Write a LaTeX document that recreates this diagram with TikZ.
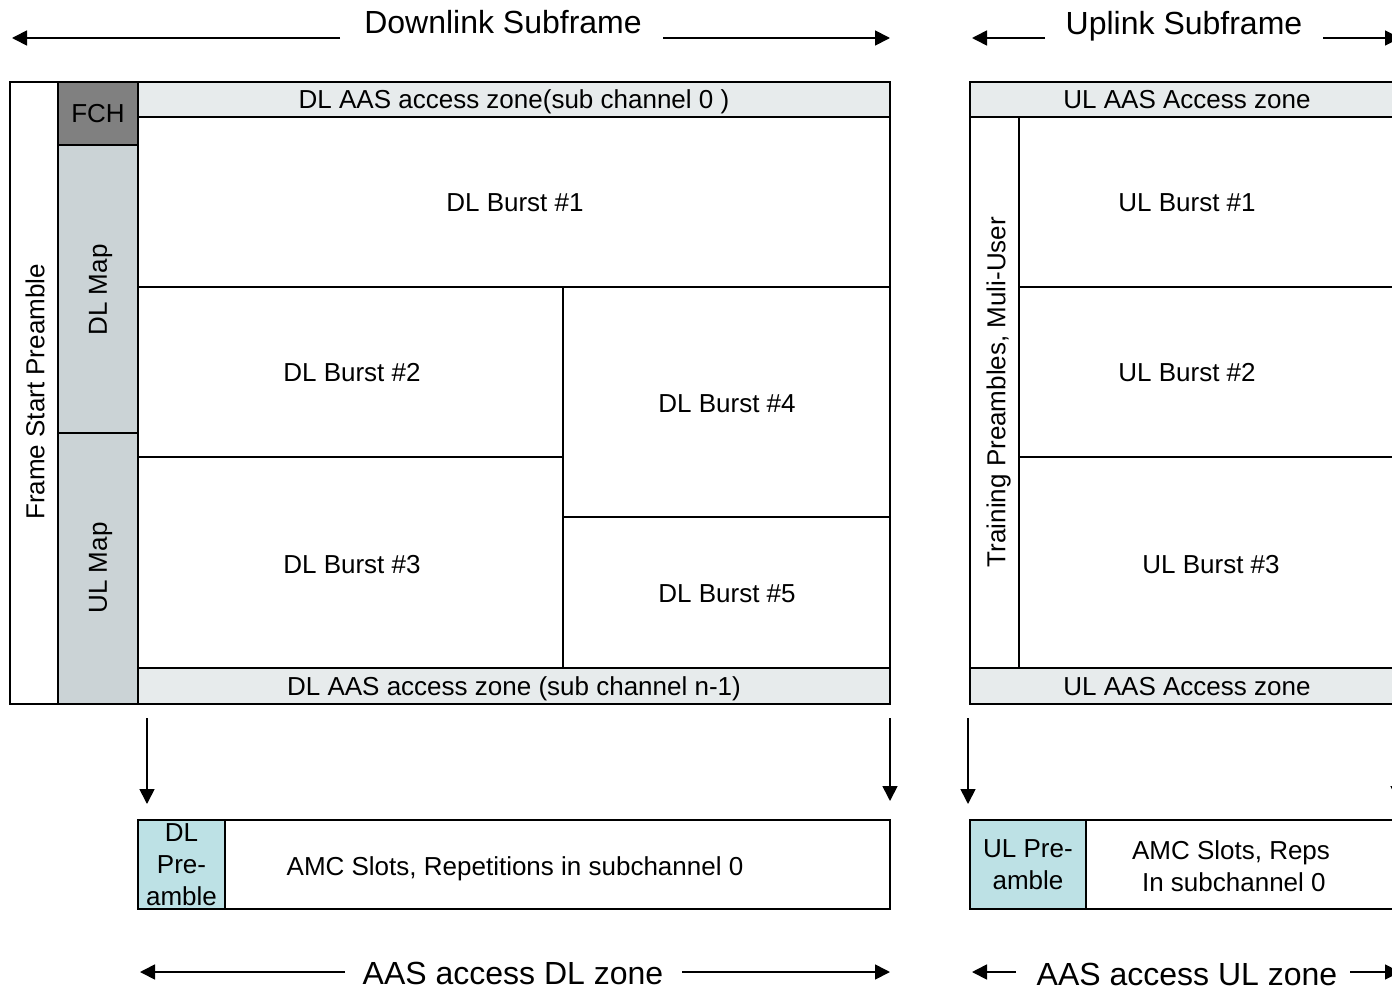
\documentclass[tikz,border=0pt]{standalone}
\usepackage{fontspec}
\setmainfont{Liberation Sans}
\usetikzlibrary{arrows.meta}
\definecolor{fchgray}{HTML}{808080}
\definecolor{mapgray}{HTML}{CBD3D6}
\definecolor{zonegray}{HTML}{E7EBEC}
\definecolor{pretealc}{HTML}{BDE1E5}
\newcommand\cellnode[7]{%
  \node[cellbox,#6,minimum width={(#4)-(#2)},minimum height={(#5)-(#3)}] (#1) at ({((#2)+(#4))/2},{((#3)+(#5))/2}) {#7};}
\tikzset{
  cellbox/.style={draw=black,line width=1.6pt,rectangle,inner sep=0pt,outer sep=0pt,
    font=\fontsize{26}{32}\selectfont,align=center,text depth=0pt},
  zonebox/.style={fill=zonegray},
  mapbox/.style={fill=mapgray},
  fchbox/.style={fill=fchgray},
  prebox/.style={fill=pretealc},
  plainbox/.style={fill=white},
  lbl/.style={font=\fontsize{26}{32}\selectfont,inner sep=0pt,align=center,text depth=0pt},
  title/.style={font=\fontsize{32}{36}\selectfont,inner sep=0pt},
  arr/.style={line width=1.7pt,-{Triangle[length=15pt,width=15pt]}},
}
\begin{document}
\begin{tikzpicture}[x=1pt,y=-1pt]
\useasboundingbox (0,0) rectangle (1392,990);
\clip (0,0) rectangle (1392,990);
\fill[white] (0,0) rectangle (1392,990);
% ---------------- Downlink subframe ----------------
\cellnode{fsp}{10}{82}{58}{704}{plainbox}{}
\cellnode{fch}{58}{82}{138}{145}{fchbox}{FCH}
\cellnode{dlmap}{58}{145}{138}{433}{mapbox}{}
\cellnode{ulmap}{58}{433}{138}{704}{mapbox}{}
\cellnode{dlztop}{138}{82}{890}{117}{zonebox}{DL AAS access zone(sub channel 0 )}
\cellnode{dlb1}{138}{117}{890}{287}{plainbox}{}
\cellnode{dlb2}{138}{287}{563}{457}{plainbox}{}
\cellnode{dlb3}{138}{457}{563}{668}{plainbox}{}
\cellnode{dlb4}{563}{287}{890}{517}{plainbox}{}
\cellnode{dlb5}{563}{517}{890}{668}{plainbox}{}
\cellnode{dlzbot}{138}{668}{890}{704}{zonebox}{DL AAS access zone (sub channel n-1)}
\draw[line width=1.6pt] (10,82) rectangle (890,704);
\node[lbl,rotate=90] (fsptxt) at (35,392) {Frame Start Preamble};
\node[lbl,rotate=90] (dlmaptxt) at (98,290) {DL Map};
\node[lbl,rotate=90] (ulmaptxt) at (98,568) {UL Map};
\node[lbl] (dlb1txt) at (515,203) {DL Burst \#1};
\node[lbl] (dlb2txt) at (352,372) {DL Burst \#2};
\node[lbl] (dlb3txt) at (352,564) {DL Burst \#3};
\node[lbl] (dlb4txt) at (727,404) {DL Burst \#4};
\node[lbl] (dlb5txt) at (727,594) {DL Burst \#5};
% ---------------- Uplink subframe ----------------
\cellnode{ulztop}{970}{82}{1404}{117}{zonebox}{UL AAS Access zone}
\cellnode{trn}{970}{117}{1019}{668}{plainbox}{}
\cellnode{ulb1}{1019}{117}{1404}{287}{plainbox}{}
\cellnode{ulb2}{1019}{287}{1404}{457}{plainbox}{}
\cellnode{ulb3}{1019}{457}{1404}{668}{plainbox}{}
\cellnode{ulzbot}{970}{668}{1404}{704}{zonebox}{UL AAS Access zone}
\node[lbl,rotate=90] (trntxt) at (996,392) {Training Preambles, Muli-User};
\node[lbl] (ulb1txt) at (1187,203) {UL Burst \#1};
\node[lbl] (ulb2txt) at (1187,372) {UL Burst \#2};
\node[lbl] (ulb3txt) at (1211,564) {UL Burst \#3};
% ---------------- Bottom AAS zones ----------------
\cellnode{dlpre}{138}{820}{225}{909}{prebox}{DL\\Pre-\\amble}
\cellnode{dlamc}{225}{820}{890}{909}{plainbox}{}
\node[lbl] (dlamctxt) at (515,866) {AMC Slots, Repetitions in subchannel 0};
\cellnode{ulpre}{970}{820}{1086}{909}{prebox}{UL Pre-\\amble}
\cellnode{ulamc}{1086}{820}{1404}{909}{plainbox}{}
\node[lbl] (ulamctxt) at (1231,866) {AMC Slots, Reps\\\hphantom{i}In subchannel 0};
% ---------------- Titles and span arrows ----------------
\node[title] (dltitle) at (503,22) {Downlink Subframe};
\node[title] (ultitle) at (1184,26) {Uplink Subframe};
\node[title] (dlzone) at (513,973) {AAS access DL zone};
\node[title] (ulzone) at (1187,974) {AAS access UL zone};
\coordinate (dlt1) at (340,38); \coordinate (dlt1e) at (12,38);
\coordinate (dlt2) at (663,38); \coordinate (dlt2e) at (890,38);
\coordinate (ult1) at (1045,38); \coordinate (ult1e) at (972,38);
\coordinate (ult2) at (1323,38); \coordinate (ult2e) at (1400,38);
\draw[arr] (dlt1) -- (dlt1e);
\draw[arr] (dlt2) -- (dlt2e);
\draw[arr] (ult1) -- (ult1e);
\draw[arr] (ult2) -- (ult2e);
\coordinate (dlz1) at (345,972); \coordinate (dlz1e) at (140,972);
\coordinate (dlz2) at (682,972); \coordinate (dlz2e) at (890,972);
\coordinate (ulz1) at (1016,972); \coordinate (ulz1e) at (972,972);
\coordinate (ulz2) at (1350,972); \coordinate (ulz2e) at (1400,972);
\draw[arr] (dlz1) -- (dlz1e);
\draw[arr] (dlz2) -- (dlz2e);
\draw[arr] (ulz1) -- (ulz1e);
\draw[arr] (ulz2) -- (ulz2e);
% ---------------- Down arrows ----------------
\coordinate (d1s) at (147,718); \coordinate (d1e) at (147,804);
\coordinate (d2s) at (890,718); \coordinate (d2e) at (890,801);
\coordinate (d3s) at (968,718); \coordinate (d3e) at (968,804);
\coordinate (d4s) at (1398,718); \coordinate (d4e) at (1398,801);
\draw[arr] (d1s) -- (d1e);
\draw[arr] (d2s) -- (d2e);
\draw[arr] (d3s) -- (d3e);
\draw[arr] (d4s) -- (d4e);
\end{tikzpicture}
\end{document}
